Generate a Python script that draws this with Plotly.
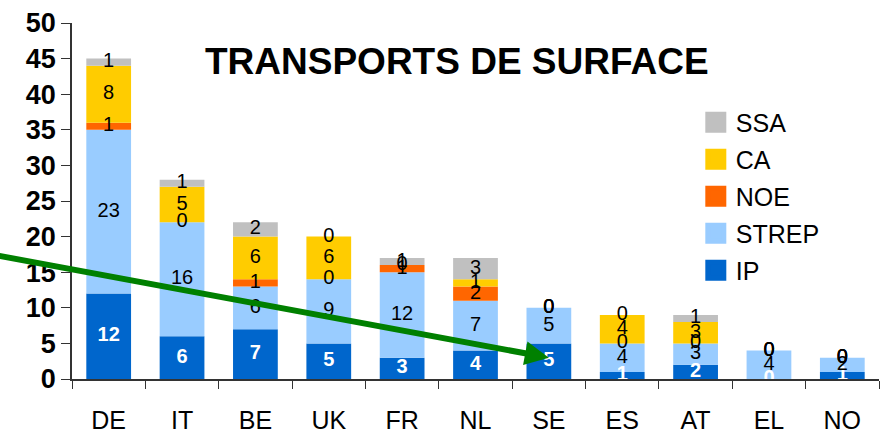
import plotly.graph_objects as go

countries = ["DE", "IT", "BE", "UK", "FR", "NL", "SE", "ES", "AT", "EL", "NO"]
IP = [12, 6, 7, 5, 3, 4, 5, 1, 2, 0, 1]
STREP = [23, 16, 6, 9, 12, 7, 5, 4, 3, 4, 2]
NOE = [1, 0, 1, 0, 1, 2, 0, 0, 0, 0, 0]
CA = [8, 5, 6, 6, 0, 1, 0, 4, 3, 0, 0]
SSA = [1, 1, 2, 0, 1, 3, 0, 0, 1, 0, 0]
y_ticks = list(range(0, 55, 5))

series = [
    ("IP", IP, "#0066CC", "white", True),
    ("STREP", STREP, "#99CCFF", "black", False),
    ("NOE", NOE, "#FF6600", "black", False),
    ("CA", CA, "#FFCC00", "black", False),
    ("SSA", SSA, "#C0C0C0", "black", False),
]

FONT = "Liberation Sans, Arial, sans-serif"
fig = go.Figure()

base = [0] * len(countries)
label_traces = []
for name, vals, color, tcolor, bold in series:
    fig.add_trace(go.Bar(
        x=countries, y=vals, base=base, name=name,
        marker=dict(color=color, line=dict(width=0)),
        showlegend=False, hoverinfo="skip",
    ))
    mids = [b + v / 2 for b, v in zip(base, vals)]
    label_traces.append(go.Scatter(
        x=countries, y=mids, mode="text", text=[str(v) for v in vals],
        textfont=dict(family=FONT, size=20, color=tcolor,
                      weight="bold" if bold else "normal"),
        showlegend=False, hoverinfo="skip", cliponaxis=False,
    ))
    base = [b + v for b, v in zip(base, vals)]

for t in label_traces:
    fig.add_trace(t)

# legend entries (top to bottom: SSA, CA, NOE, STREP, IP)
for name, vals, color, tcolor, bold in reversed(series):
    fig.add_trace(go.Scatter(
        x=[None], y=[None], mode="markers", name=name, legendgroup=name,
        marker=dict(symbol="square", size=16, color=color,
                    line=dict(color=color, width=5)),
        hoverinfo="skip",
    ))

fig.update_layout(
    width=883, height=433,
    margin=dict(l=72, r=4, t=23, b=54, autoexpand=False),
    barmode="overlay", bargap=0.39,
    plot_bgcolor="white", paper_bgcolor="white",
    font=dict(family=FONT, color="black"),
    showlegend=True,
    legend=dict(
        traceorder="grouped", itemsizing="trace",
        x=0.773, y=0.785, xanchor="left", yanchor="top",
        font=dict(family=FONT, size=25, color="black"),
        bgcolor="rgba(0,0,0,0)", tracegroupgap=1.5,
    ),
    xaxis=dict(
        type="category", categoryorder="array", categoryarray=countries,
        showline=True, linecolor="#333333", linewidth=1.5,
        ticks="outside", ticklen=8, tickcolor="#333333", tickson="boundaries",
        tickfont=dict(family=FONT, size=25, color="black"),
        ticklabelstandoff=18, showgrid=False, zeroline=False, automargin=False,
        range=[-0.5, len(countries) - 0.5],
    ),
    yaxis=dict(
        range=[0, 50], tickvals=y_ticks,
        showline=True, linecolor="#333333", linewidth=1.5,
        ticks="outside", ticklen=9, tickcolor="#333333",
        tickfont=dict(family=FONT, size=27, color="black", weight="bold"),
        ticklabelstandoff=0, showgrid=False, zeroline=False, automargin=False,
    ),
    annotations=[
        dict(text="TRANSPORTS DE SURFACE", xref="paper", yref="paper",
             x=0.477, y=0.891, xanchor="center", yanchor="middle",
             showarrow=False,
             font=dict(family=FONT, size=37, color="black", weight="bold")),
        dict(text="", x="SE", y=3.0, xref="x", yref="y",
             ax=-1.55, ay=17.4, axref="x", ayref="y",
             showarrow=True, arrowhead=2, arrowsize=0.8, arrowwidth=6,
             arrowcolor="#008000"),
    ],
)

fig.write_html(
    "out.html",
    config={"displayModeBar": False},
    post_script="document.body.style.margin='0px';document.body.style.overflow='hidden';",
)
